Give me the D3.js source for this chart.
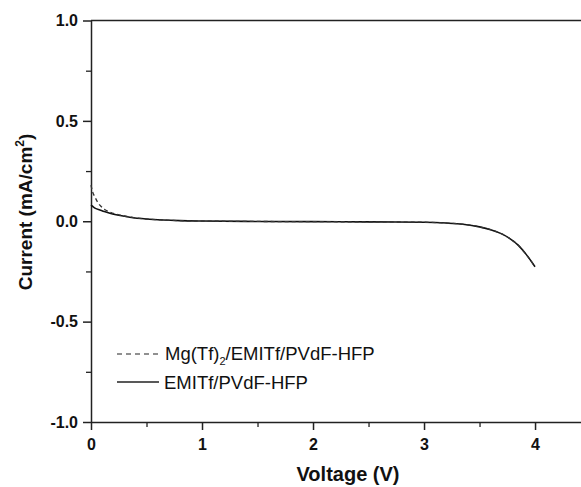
<!DOCTYPE html>
<html>
<head>
<meta charset="utf-8">
<script src="https://cdn.jsdelivr.net/npm/d3@7"></script>
<style>
body { margin: 0; background: #fff; }
svg { display: block; }
</style>
</head>
<body>
<script>
// voltage (V) sample points and current (mA/cm2)
var VOLT_SOLID = [0, 0.01, 0.04, 0.08, 0.12, 0.17, 0.25, 0.35, 0.5, 0.65, 0.8, 1.0, 1.5, 2.0, 2.5, 3.0, 3.2, 3.35, 3.5, 3.6, 3.7, 3.77, 3.85, 3.92, 4.0];
var CURR_SOLID = [0.08, 0.076, 0.064, 0.056, 0.048, 0.04, 0.03, 0.02, 0.011, 0.006, 0.003, 0.001, -0.001, -0.002, -0.003, -0.005, -0.009, -0.015, -0.028, -0.042, -0.063, -0.085, -0.12, -0.165, -0.227];

var VOLT_DASH = [0, 0.01, 0.036, 0.06, 0.08, 0.12, 0.17, 0.25, 0.35, 0.5, 0.65, 0.8, 1.0, 1.5, 2.0, 2.5, 3.0, 3.2, 3.35, 3.5, 3.6, 3.7, 3.77, 3.85, 3.92, 4.0];
var CURR_DASH = [0.18, 0.155, 0.12, 0.095, 0.08, 0.06, 0.046, 0.032, 0.021, 0.011, 0.006, 0.003, 0.001, -0.001, -0.002, -0.003, -0.005, -0.009, -0.015, -0.028, -0.042, -0.063, -0.085, -0.12, -0.165, -0.227];

var LEGEND = ["Mg(Tf)", "EMITf/PVdF-HFP"];
var X_TICKS = [0, 1, 2, 3, 4];
var Y_TICKS = [-1.0, -0.5, 0.0, 0.5, 1.0];

var W = 581, H = 487;
var svg = d3.select("body").append("svg")
    .attr("width", W)
    .attr("height", H);

var x = d3.scaleLinear().domain([0, 4.414]).range([91, 581]);
var y = d3.scaleLinear().domain([-1, 1]).range([422, 20.5]);

var font = "Arial, 'Liberation Sans', sans-serif";
var fmt1 = d3.format(".1f");

// minor ticks
svg.append("g")
    .attr("transform", "translate(0," + y(-1) + ")")
    .call(d3.axisBottom(x).tickValues([0.5, 1.5, 2.5, 3.5]).tickSize(5).tickFormat(""))
    .call(function (g) { g.select(".domain").remove(); })
    .selectAll("line").attr("stroke", "#222").attr("stroke-width", 1.3);
svg.append("g")
    .attr("transform", "translate(" + x(0) + ",0)")
    .call(d3.axisLeft(y).tickValues([-0.75, -0.25, 0.25, 0.75]).tickSize(5).tickFormat(""))
    .call(function (g) { g.select(".domain").remove(); })
    .selectAll("line").attr("stroke", "#222").attr("stroke-width", 1.3);

// major axes
var xa = svg.append("g")
    .attr("transform", "translate(0," + y(-1) + ")")
    .call(d3.axisBottom(x).tickValues(X_TICKS).tickSize(8).tickSizeOuter(0).tickPadding(9).tickFormat(d3.format("d")));
var ya = svg.append("g")
    .attr("transform", "translate(" + x(0) + ",0)")
    .call(d3.axisLeft(y).tickValues(Y_TICKS).tickSize(8).tickSizeOuter(0).tickPadding(5)
        .tickFormat(function (d) { return fmt1(d).replace("\u2212", "-"); }));

[xa, ya].forEach(function (g) {
    g.select(".domain").attr("stroke", "#222").attr("stroke-width", 1.5);
    g.selectAll(".tick line").attr("stroke", "#222").attr("stroke-width", 1.5);
    g.selectAll(".tick text")
        .attr("fill", "#111")
        .style("font-family", font)
        .style("font-size", "16px")
        .style("font-weight", "bold");
});

// top frame line
svg.append("line")
    .attr("x1", x(0)).attr("x2", W)
    .attr("y1", y(1)).attr("y2", y(1))
    .attr("stroke", "#222").attr("stroke-width", 1.5);

// axis titles
svg.append("text")
    .attr("x", 348).attr("y", 481)
    .attr("text-anchor", "middle")
    .style("font-family", font).style("font-size", "20px").style("font-weight", "bold")
    .attr("fill", "#111")
    .text("Voltage (V)");

var yt = svg.append("text")
    .attr("transform", "translate(32,212) rotate(-90)")
    .attr("text-anchor", "middle")
    .style("font-family", font).style("font-size", "19px").style("font-weight", "bold")
    .attr("fill", "#111");
yt.append("tspan").text("Current (mA/cm");
yt.append("tspan").attr("dy", -8).style("font-size", "12px").text("2");
yt.append("tspan").attr("dy", 8).text(")");

// curves
var line = d3.line()
    .x(function (d) { return x(d[0]); })
    .y(function (d) { return y(d[1]); })
    .curve(d3.curveMonotoneX);

svg.append("path")
    .datum(d3.zip(VOLT_SOLID, CURR_SOLID))
    .attr("d", line)
    .attr("fill", "none")
    .attr("stroke", "#111")
    .attr("stroke-width", 1.6);

svg.append("path")
    .datum(d3.zip(VOLT_DASH, CURR_DASH))
    .attr("d", line)
    .attr("fill", "none")
    .attr("stroke", "#333")
    .attr("stroke-width", 1.3)
    .attr("stroke-dasharray", "4,3");

// legend
var leg = svg.append("g");
leg.append("line")
    .attr("x1", 117).attr("x2", 161).attr("y1", 354).attr("y2", 354)
    .attr("stroke", "#222").attr("stroke-width", 1.2)
    .attr("stroke-dasharray", "5,4");
var t1 = leg.append("text")
    .attr("x", 165).attr("y", 360)
    .style("font-family", font).style("font-size", "18.5px")
    .attr("fill", "#111");
t1.append("tspan").text(LEGEND[0]);
t1.append("tspan").attr("dy", 5).style("font-size", "11px").text("2");
t1.append("tspan").attr("dy", -5).text("/EMITf/PVdF-HFP");

leg.append("line")
    .attr("x1", 117).attr("x2", 159).attr("y1", 382).attr("y2", 382)
    .attr("stroke", "#222").attr("stroke-width", 1.3);
leg.append("text")
    .attr("x", 164).attr("y", 389)
    .style("font-family", font).style("font-size", "18.5px")
    .attr("fill", "#111")
    .text(LEGEND[1]);
</script>
</body>
</html>
